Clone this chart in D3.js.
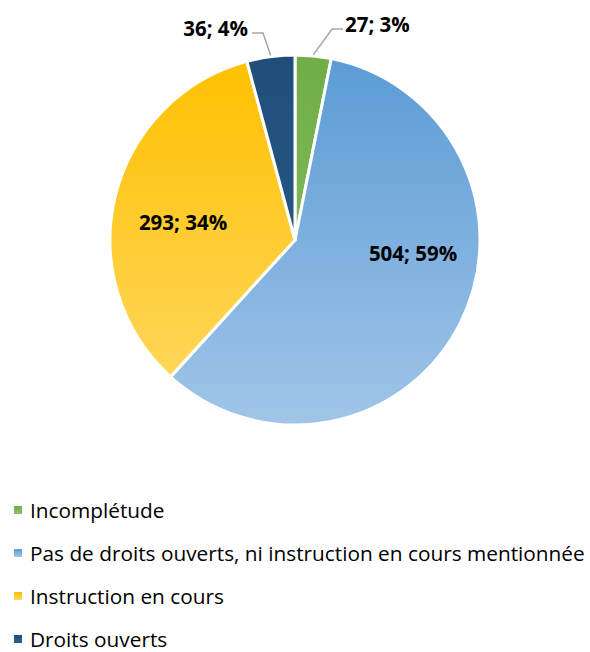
<!DOCTYPE html>
<html>
<head>
<meta charset="utf-8">
<script src="https://cdn.jsdelivr.net/npm/d3@7"></script>
<style>
  body { margin: 0; background: #fff; }
  svg { display: block; }
  text { font-family: "Open Sans", "Noto Sans", sans-serif; }
</style>
</head>
<body>
<script>
// Data
const categories = ["Incomplétude", "Pas de droits ouverts, ni instruction en cours mentionnée", "Instruction en cours", "Droits ouverts"];
const values = [27, 504, 293, 36];
const percents = ["3%", "59%", "34%", "4%"];
const colorsTop = ["#70ad47", "#5b9bd5", "#ffc000", "#1f4e79"];
const colorsBottom = ["#8cc168", "#a0c5e8", "#ffd966", "#2a5f8f"];

const width = 590, height = 652;
const cx = 295, cy = 240, r = 185;

const svg = d3.select("body").append("svg")
    .attr("width", width)
    .attr("height", height);

const defs = svg.append("defs");

// vertical gradients spanning the whole pie, like the office fill
categories.forEach((c, i) => {
  const g = defs.append("linearGradient")
      .attr("id", "grad-" + i)
      .attr("gradientUnits", "userSpaceOnUse")
      .attr("x1", 0).attr("y1", -r).attr("x2", 0).attr("y2", r);
  g.append("stop").attr("offset", "0%").attr("stop-color", colorsTop[i]);
  g.append("stop").attr("offset", "100%").attr("stop-color", colorsBottom[i]);
});

const pie = d3.pie().sort(null).value(d => d);
const arcs = pie(values);
const arc = d3.arc().innerRadius(0).outerRadius(r);

const g = svg.append("g").attr("transform", `translate(${cx},${cy})`);

g.selectAll("path")
  .data(arcs)
  .join("path")
    .attr("d", arc)
    .attr("fill", (d, i) => `url(#grad-${i})`)
    .attr("stroke", "#fff")
    .attr("stroke-width", 3)
    .attr("stroke-linejoin", "round");

const labelText = (i) => `${values[i]}; ${percents[i]}`;
const labelSize = 20.5;

// big slices: labels inside (positions relative to pie centre)
const inside = [
  { i: 1, x: 118, y: 13 },
  { i: 2, x: -112, y: -18 }
];
inside.forEach(o => {
  g.append("text")
    .attr("x", o.x)
    .attr("y", o.y)
    .attr("text-anchor", "middle")
    .attr("dominant-baseline", "central")
    .attr("font-size", labelSize)
    .attr("font-weight", "bold")
    .attr("fill", "#000")
    .text(labelText(o.i));
});

// small slices: labels outside with leader lines
// hx = end of the horizontal segment, ekx = elbow, tx = text anchor
const outside = [
  { i: 0, anchor: "start", tx: 50, hx: 48, ekx: 37, ly: -216, lineY: -211 },
  { i: 3, anchor: "end", tx: -47, hx: -43, ekx: -32, ly: -212, lineY: -207 }
];
outside.forEach(o => {
  const d = arcs[o.i];
  const mid = (d.startAngle + d.endAngle) / 2;
  const ex = Math.sin(mid) * (r + 1), ey = -Math.cos(mid) * (r + 1);
  g.append("polyline")
    .attr("points", [[ex, ey], [o.ekx, o.lineY], [o.hx, o.lineY]].map(q => q.join(",")).join(" "))
    .attr("fill", "none")
    .attr("stroke", "#a6a6a6")
    .attr("stroke-width", 1.5);
  g.append("text")
    .attr("x", o.tx)
    .attr("y", o.ly)
    .attr("text-anchor", o.anchor)
    .attr("dominant-baseline", "central")
    .attr("font-size", labelSize)
    .attr("font-weight", "bold")
    .text(labelText(o.i));
});

// legend
const legend = svg.append("g").attr("class", "legend");
const rowY = d3.scalePoint().domain(d3.range(categories.length)).range([510, 639]);
categories.forEach((c, i) => {
  const y = rowY(i);
  const lg = defs.append("linearGradient")
      .attr("id", "lg-" + i)
      .attr("x1", 0).attr("y1", 0).attr("x2", 0).attr("y2", 1);
  lg.append("stop").attr("offset", "0%").attr("stop-color", colorsTop[i]);
  lg.append("stop").attr("offset", "100%").attr("stop-color", colorsBottom[i]);
  legend.append("rect")
    .attr("x", 14).attr("y", y - 4)
    .attr("width", 8).attr("height", 8)
    .attr("fill", `url(#lg-${i})`);
  legend.append("text")
    .attr("x", 30).attr("y", y)
    .attr("dominant-baseline", "central")
    .attr("font-size", 19)
    .attr("fill", "#000")
    .text(c);
});

// fit the legend's long line to the reference width (Calibri is narrower)
const longest = legend.selectAll("text").filter((d, i) => i === 1).node();
const w = longest.getComputedTextLength();
const fs = 19 * 555 / w;
legend.selectAll("text").attr("font-size", fs);
</script>
</body>
</html>
